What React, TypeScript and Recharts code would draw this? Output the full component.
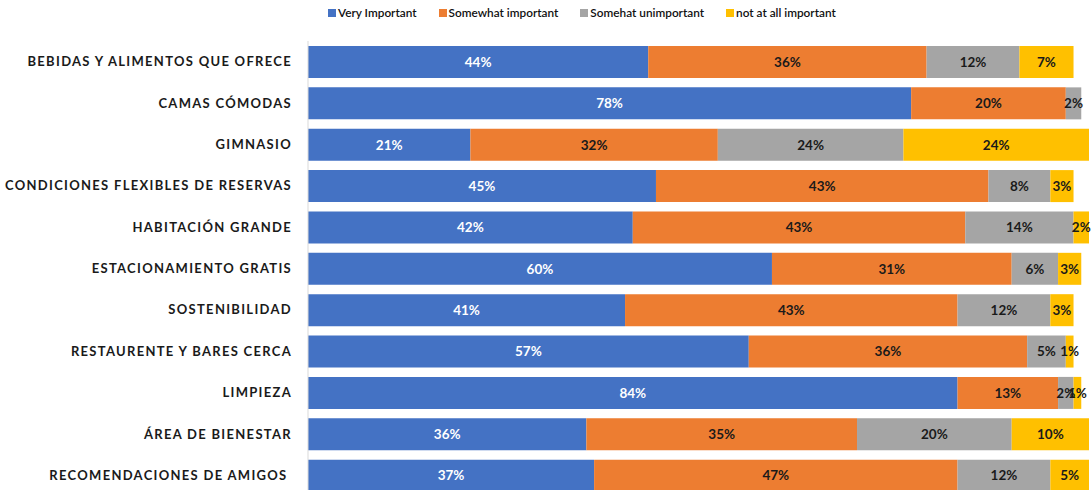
import React from "react";
import { BarChart, Bar, XAxis, YAxis, LabelList } from "recharts";

// Hotel amenities survey - share of answers per importance level (%)
const categories = [
	"BEBIDAS Y ALIMENTOS QUE OFRECE",
	"CAMAS CÓMODAS",
	"GIMNASIO",
	"CONDICIONES FLEXIBLES DE RESERVAS",
	"HABITACIÓN GRANDE",
	"ESTACIONAMIENTO GRATIS",
	"SOSTENIBILIDAD",
	"RESTAURENTE Y BARES CERCA",
	"LIMPIEZA",
	"ÁREA DE BIENESTAR",
	"RECOMENDACIONES DE AMIGOS\u00a0",
];

const veryImportant = [44, 78, 21, 45, 42, 60, 41, 57, 84, 36, 37];
const somewhatImportant = [36, 20, 32, 43, 43, 31, 43, 36, 13, 35, 47];
const somewhatUnimportant = [12, 2, 24, 8, 14, 6, 12, 5, 2, 20, 12];
const notAtAllImportant = [7, null, 24, 3, 2, 3, 3, 1, 1, 10, 5];

const series = [
	{ key: "very", name: "Very Important", color: "#4472C4", labelColor: "#FFFFFF" },
	{ key: "somewhat", name: "Somewhat important", color: "#ED7D31", labelColor: "#1a1a1a" },
	{ key: "unimportant", name: "Somehat unimportant", color: "#A5A5A5", labelColor: "#1a1a1a" },
	{ key: "notAtAll", name: "not at all important", color: "#FFC000", labelColor: "#1a1a1a" },
];

const data = categories.map((name, i) => ({
	name,
	very: veryImportant[i],
	somewhat: somewhatImportant[i],
	unimportant: somewhatUnimportant[i],
	notAtAll: notAtAllImportant[i],
}));

const FONT = "Lato, 'Open Sans', sans-serif";

function TopLegend() {
	return (
		<div
			style={{
				position: "absolute",
				top: 5,
				left: 328,
				display: "flex",
				gap: 22,
				fontFamily: FONT,
				fontSize: 11.8,
				fontWeight: 600,
				color: "#111",
				lineHeight: "16px",
				whiteSpace: "nowrap",
			}}
		>
			{series.map((s) => (
				<div key={s.key} style={{ display: "flex", alignItems: "center" }}>
					<span style={{ width: 8, height: 8, background: s.color, marginRight: 2, display: "inline-block" }} />
					<span>{s.name}</span>
				</div>
			))}
		</div>
	);
}

export default function App() {
	return (
		<div style={{ position: "absolute", top: 0, left: 0, width: 1091, height: 490, overflow: "hidden", background: "#fff" }}>
			<TopLegend />
			<BarChart
				width={1091}
				height={500}
				data={data}
				layout='vertical'
				margin={{ top: 41, right: 2, left: 0, bottom: 4 }}
				barSize={32}
			>
				<XAxis type='number' domain={[0, 101]} hide />
				<YAxis
					type='category'
					dataKey='name'
					width={308}
					axisLine={{ stroke: "#D9D9D9" }}
					tickLine={false}
					tickSize={0}
					tickMargin={16}
					interval={0}
					tick={{ fill: "#1a1a1a", fontFamily: FONT, fontSize: 13, fontWeight: 700, letterSpacing: 1.3 }}
				/>
				{series.map((s) => (
					<Bar key={s.key} dataKey={s.key} name={s.name} stackId='a' fill={s.color} isAnimationActive={false}>
						<LabelList
							dataKey={s.key}
							position='center'
							formatter={(v: any) => (v ? `${v}%` : "")}
							fill={s.labelColor}
							style={{ fontFamily: FONT, fontSize: 13.5, fontWeight: 700 }}
						/>
					</Bar>
				))}
			</BarChart>
		</div>
	);
}
